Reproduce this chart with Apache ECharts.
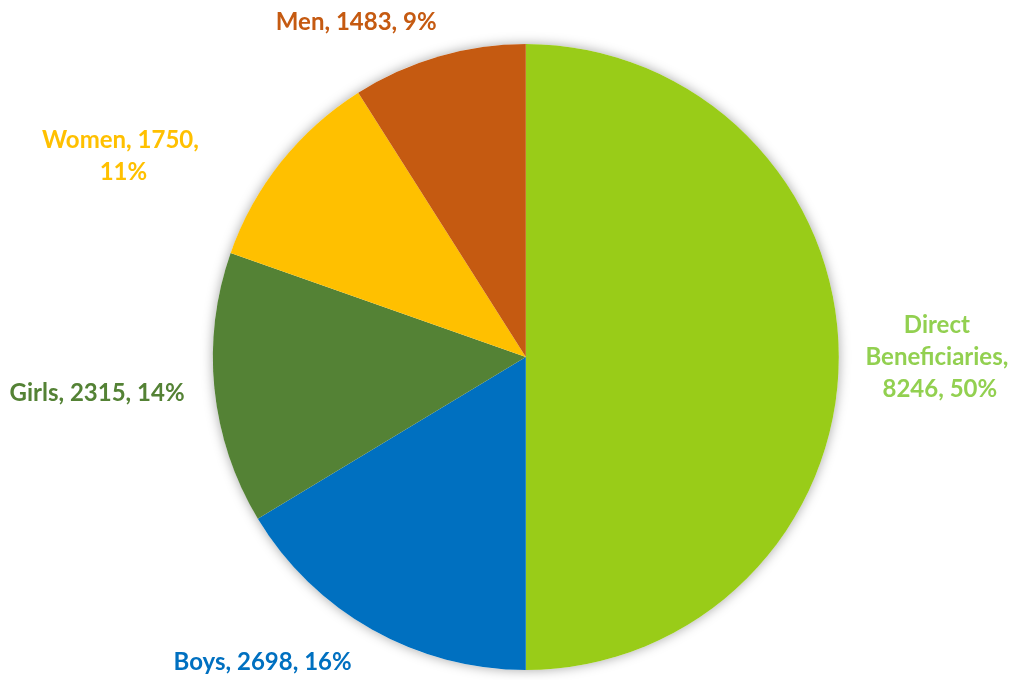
<!DOCTYPE html>
<html><head><meta charset="utf-8">
<script src="https://cdn.jsdelivr.net/npm/echarts@6/dist/echarts.min.js"></script>
<style>html,body{margin:0;padding:0;background:#fff}#c{width:1021px;height:680px}</style>
</head><body><div id="c"></div>
<script>
var categories = ['Direct Beneficiaries', 'Boys', 'Girls', 'Women', 'Men'];
var values = [8246, 2698, 2315, 1750, 1483];
var sliceColors = ['#99CC18', '#0070C0', '#548235', '#FFC000', '#C55A11'];
var labelColors = ['#92D050', '#0070C0', '#548235', '#FFC000', '#C55A11'];
var labelWidths = [175, null, null, 178, null];

var chart = echarts.init(document.getElementById('c'));
var data = categories.map(function (n, i) {
  var lbl = { color: labelColors[i] };
  if (labelWidths[i]) { lbl.width = labelWidths[i]; lbl.overflow = 'break'; }
  return { name: n, value: values[i], itemStyle: { color: sliceColors[i] }, label: lbl };
});
var labelShift = [
  { align: 'center', dx: 71, dy: 0 },
  { dx: -3, dy: 11 },
  { dx: 0, dy: 2 },
  { align: 'center', dx: -133, dy: 10 },
  { dx: 10, dy: -10 }
];
chart.setOption({
  animation: false,
  series: [{
    type: 'pie', silent: true, z: 1,
    center: ['51.5%', '52.5%'], radius: 313,
    data: [{ value: 1, itemStyle: { color: '#fff', shadowBlur: 12, shadowColor: 'rgba(0,0,0,0.35)' } }],
    label: { show: false }, labelLine: { show: false }
  }, {
    type: 'pie', z: 2,
    center: ['51.5%', '52.5%'], radius: 313,
    startAngle: 90, clockwise: true,
    avoidLabelOverlap: false,
    percentPrecision: 0,
    data: data,
    label: {
      show: true, position: 'outside', alignTo: 'none',
      fontFamily: 'Lato', fontWeight: 'bold', fontSize: 24, lineHeight: 32,
      formatter: '{b}, {c}, {d}%',
      distanceToLabelLine: 5
    },
    labelLine: { show: false, length: 25, length2: 0 },
    labelLayout: function (p) {
      return labelShift[p.dataIndex];
    },
    itemStyle: { borderWidth: 0 }
  }]
});
</script></body></html>
